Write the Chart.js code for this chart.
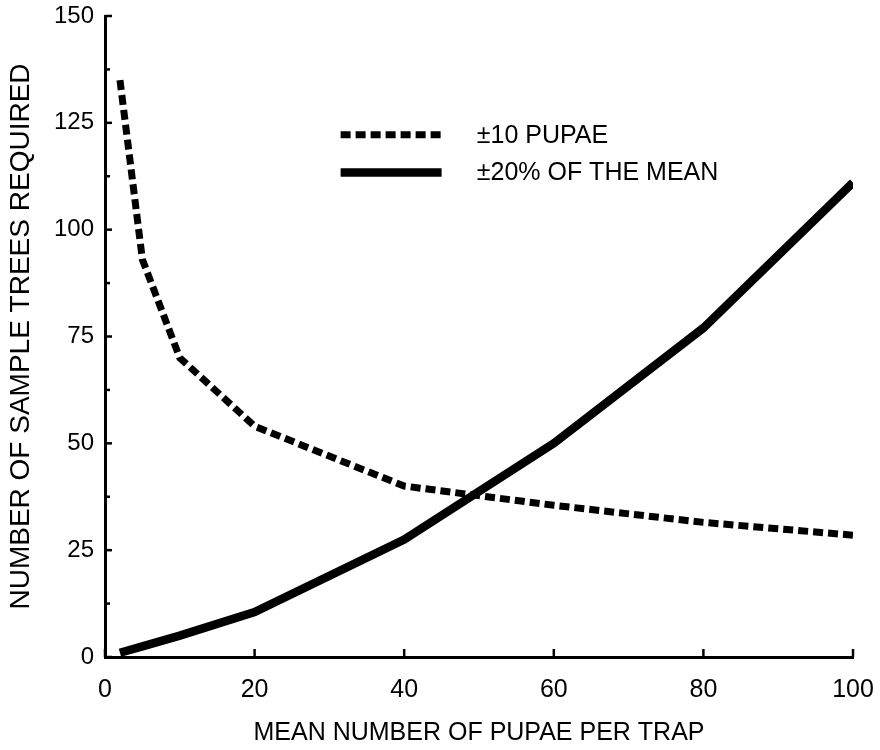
<!DOCTYPE html>
<html>
<head>
<meta charset="utf-8">
<script src="https://cdn.jsdelivr.net/npm/chart.js@4.4.0/dist/chart.umd.min.js"></script>
<style>
  html, body { margin: 0; padding: 0; background: #ffffff; }
  #wrap { width: 880px; height: 750px; position: relative; }
</style>
</head>
<body>
<div id="wrap"><canvas id="c" width="880" height="750"></canvas></div>
<script>
// ---- data ----
const xValues = [2, 5, 10, 20, 40, 60, 80, 100];
const pupaeSeries = [135, 93, 70, 54, 40, 35.5, 31.5, 28.5];      // ±10 PUPAE
const meanSeries = [1, 2.5, 5, 10.5, 27.5, 50, 77, 111];          // ±20% OF THE MEAN
const seriesLabels = ['\u00B110 PUPAE', '\u00B120% OF THE MEAN'];
const xTickValues = [0, 20, 40, 60, 80, 100];
const yTickValues = [0, 25, 50, 75, 100, 125, 150];
const xTitle = 'MEAN NUMBER OF PUPAE PER TRAP';
const yTitle = 'NUMBER OF SAMPLE TREES REQUIRED';

const FONT = "'Liberation Sans', Arial, Helvetica, sans-serif";

function toPoints(xs, ys) { return xs.map((x, i) => ({ x: x, y: ys[i] })); }

// inward tick marks drawn from the scales' own tick positions
const inwardTicks = {
  id: 'inwardTicks',
  afterDatasetsDraw(chart) {
    const ctx = chart.ctx;
    const xs = chart.scales.x, ys = chart.scales.y;
    ctx.save();
    ctx.strokeStyle = '#000';
    ctx.lineWidth = 2.5;
    ys.ticks.forEach((t, i) => {
      const p = ys.getPixelForTick(i);
      const major = yTickValues.includes(t.value);
      ctx.beginPath();
      ctx.moveTo(ys.right, p);
      ctx.lineTo(ys.right + (major ? 7 : 5), p);
      ctx.stroke();
    });
    xs.ticks.forEach((t, i) => {
      const p = xs.getPixelForTick(i);
      ctx.beginPath();
      ctx.moveTo(p, xs.top);
      ctx.lineTo(p, xs.top - 8);
      ctx.stroke();
    });
    ctx.restore();
  }
};

// legend drawn inside the plot area, using dataset styles
const innerLegend = {
  id: 'innerLegend',
  afterDraw(chart) {
    const ctx = chart.ctx;
    const xs = chart.scales.x, ys = chart.scales.y;
    const x0 = xs.getPixelForValue(31.5);
    const x1 = xs.getPixelForValue(45);
    const tx = xs.getPixelForValue(49.7);
    const rows = [ys.getPixelForValue(122.2), ys.getPixelForValue(113.4)];
    ctx.save();
    chart.data.datasets.forEach((ds, i) => {
      const y = rows[i];
      ctx.beginPath();
      ctx.strokeStyle = ds.borderColor;
      ctx.lineWidth = ds.borderWidth;
      ctx.setLineDash(ds.borderDash || []);
      ctx.lineCap = 'butt';
      ctx.moveTo(x0, y);
      ctx.lineTo(x1, y);
      ctx.stroke();
      ctx.setLineDash([]);
      ctx.fillStyle = '#000';
      ctx.font = '25px ' + FONT;
      ctx.textBaseline = 'middle';
      ctx.textAlign = 'left';
      ctx.fillText(ds.label, tx, y + 1);
    });
    ctx.restore();
  }
};

new Chart(document.getElementById('c'), {
  type: 'line',
  data: {
    datasets: [
      {
        label: seriesLabels[0],
        data: toPoints(xValues, pupaeSeries),
        borderColor: '#000',
        borderWidth: 7,
        borderDash: [10, 5],
        pointRadius: 0,
        tension: 0,
        fill: false
      },
      {
        label: seriesLabels[1],
        data: toPoints(xValues, meanSeries),
        borderColor: '#000',
        borderWidth: 8.5,
        pointRadius: 0,
        tension: 0,
        fill: false
      }
    ]
  },
  options: {
    responsive: false,
    animation: false,
    layout: { padding: { left: 0, right: 27, top: 16, bottom: 0 } },
    plugins: {
      legend: { display: false },
      tooltip: { enabled: false }
    },
    scales: {
      x: {
        type: 'linear',
        min: 0,
        max: 100,
        afterFit(s) { s.height = 93; s.paddingLeft = 0; s.paddingRight = 0; },
        afterBuildTicks(s) { s.ticks = xTickValues.map(v => ({ value: v })); },
        grid: { display: false, drawTicks: false },
        border: { display: true, color: '#000', width: 3 },
        ticks: {
          color: '#000',
          padding: 18,
          font: { family: FONT, size: 25 },
          maxRotation: 0
        },
        title: {
          display: true,
          text: xTitle,
          color: '#000',
          font: { family: FONT, size: 25 },
          padding: { top: 0, bottom: 2 }
        }
      },
      y: {
        type: 'linear',
        min: 0,
        max: 150,
        afterFit(s) { s.width = 105; s.paddingTop = 0; s.paddingBottom = 0; },
        ticks: {
          stepSize: 12.5,
          color: '#000',
          padding: 11,
          font: { family: FONT, size: 24 },
          callback: (v) => yTickValues.includes(v) ? String(v) : ''
        },
        grid: { display: false, drawTicks: false },
        border: { display: true, color: '#000', width: 3 },
        title: {
          display: true,
          text: yTitle,
          color: '#000',
          font: { family: FONT, size: 28 },
          padding: { top: 4, bottom: 0 }
        }
      }
    }
  },
  plugins: [inwardTicks, innerLegend]
});
</script>
</body>
</html>
